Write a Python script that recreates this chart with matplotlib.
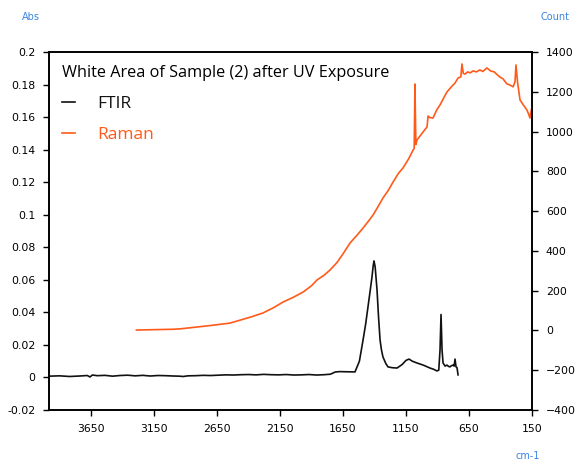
import matplotlib.pyplot as plt

# FTIR spectrum (left axis, Abs)
ftir_wn = [3984, 3900, 3820, 3740, 3680, 3658, 3640, 3600, 3540, 3480, 3420, 3360,
           3300, 3240, 3180, 3120, 3060, 3000, 2950, 2920, 2880, 2820, 2760, 2700,
           2640, 2580, 2520, 2460, 2400, 2340, 2280, 2220, 2160, 2100, 2040, 1980,
           1920, 1860, 1800, 1750, 1714, 1680, 1620, 1555, 1520, 1491, 1470, 1452,
           1435, 1420, 1410, 1404, 1395, 1380, 1368, 1356, 1345, 1333, 1310, 1293,
           1260, 1221, 1180, 1150, 1126, 1100, 1063, 1010, 960, 930, 904, 890, 880,
           872, 864, 856, 840, 825, 812, 801, 790, 777, 768, 761, 753, 745, 737]
ftir_abs = [0.0008, 0.0010, 0.0006, 0.0009, 0.0012, 0.0003, 0.0015, 0.0011, 0.0013, 0.0008,
            0.0012, 0.0014, 0.0010, 0.0013, 0.0009, 0.0012, 0.0011, 0.0009, 0.0008, 0.0006,
            0.0010, 0.0011, 0.0013, 0.0012, 0.0014, 0.0016, 0.0015, 0.0017, 0.0018, 0.0016,
            0.0019, 0.0017, 0.0016, 0.0018, 0.0015, 0.0016, 0.0018, 0.0015, 0.0017, 0.0020,
            0.0033, 0.0036, 0.0035, 0.0034, 0.0100, 0.0230, 0.0330, 0.0433, 0.0530, 0.0618,
            0.0690, 0.0716, 0.0680, 0.0537, 0.0370, 0.0230, 0.0170, 0.0126, 0.0085, 0.0065,
            0.0060, 0.0058, 0.0080, 0.0105, 0.0113, 0.0100, 0.0089, 0.0075, 0.0058, 0.0050,
            0.0040, 0.0045, 0.0169, 0.0387, 0.0170, 0.0089, 0.0070, 0.0076, 0.0068, 0.0065,
            0.0072, 0.0076, 0.0070, 0.0113, 0.0065, 0.0060, 0.0016]

# Raman spectrum (right axis, Count)
raman_wn = [3290, 3150, 3000, 2944, 2800, 2700, 2547, 2450, 2380, 2285, 2200, 2126,
            2050, 1967, 1900, 1856, 1800, 1753, 1700, 1650, 1594, 1540, 1491, 1450,
            1412, 1370, 1333, 1290, 1253, 1210, 1174, 1130, 1094, 1085, 1079, 1072,
            1063, 1030, 1000, 983, 975, 960, 936, 905, 880, 850, 825, 790, 761, 737,
            715, 706, 695, 682, 660, 640, 618, 590, 565, 540, 507, 480, 450, 425,
            404, 380, 350, 325, 300, 285, 277, 265, 245, 220, 190, 175, 166, 158, 150]
raman_cnt = [2, 4, 6, 8, 18, 25, 37, 55, 68, 88, 115, 143, 165, 193, 225, 254, 278, 304,
             340, 385, 440, 478, 515, 548, 580, 625, 666, 705, 746, 790, 817, 862, 907,
             915, 1239, 935, 958, 985, 1010, 1023, 1078, 1070, 1068, 1110, 1134, 1170,
             1199, 1225, 1244, 1269, 1275, 1340, 1292, 1289, 1300, 1295, 1305, 1300,
             1310, 1302, 1320, 1305, 1300, 1285, 1274, 1265, 1240, 1234, 1225, 1250,
             1335, 1250, 1159, 1135, 1108, 1085, 1068, 1100, 1123]

orange = "#ff5a1a"
blue = "#3d85e0"

fig = plt.figure(figsize=(5.75, 4.61), dpi=100)
ax = fig.add_axes([0.0852, 0.1106, 0.84, 0.7766])
ax2 = ax.twinx()

l1, = ax.plot(ftir_wn, ftir_abs, color="#111111", lw=1.2, label="FTIR")
l2, = ax2.plot(raman_wn, raman_cnt, color=orange, lw=1.2, label="Raman")

ax.set_xlim(3984, 150)
ax.set_ylim(-0.02, 0.2)
ax2.set_ylim(-400, 1400)
ax.set_xticks([3650, 3150, 2650, 2150, 1650, 1150, 650, 150])
ax.set_yticks([-0.02, 0, 0.02, 0.04, 0.06, 0.08, 0.1, 0.12, 0.14, 0.16, 0.18, 0.2])
ax.set_yticklabels(["-0.02", "0", "0.02", "0.04", "0.06", "0.08", "0.1", "0.12",
                    "0.14", "0.16", "0.18", "0.2"])
ax2.set_yticks(range(-400, 1401, 200))

for a in (ax, ax2):
    a.tick_params(labelsize=7.8, length=4, width=1, direction="out", pad=6)
    for s in a.spines.values():
        s.set_linewidth(1.2)

fig.text(0.038, 0.963, "Abs", color=blue, fontsize=7, ha="left", va="center")
fig.text(0.965, 0.963, "Count", color=blue, fontsize=7, ha="center", va="center")
fig.text(0.918, 0.010, "cm-1", color=blue, fontsize=7, ha="center", va="center")

leg = ax2.legend(handles=[l1, l2], loc="upper left", frameon=False,
                 title="White Area of Sample (2) after UV Exposure",
                 prop={"family": "Open Sans", "size": 12.5},
                 title_fontproperties={"family": "Open Sans", "size": 11.7},
                 handlelength=0.75, handletextpad=1.3, labelspacing=0.85,
                 borderaxespad=0.35, borderpad=0.4)
leg._legend_box.align = "left"
for t, c in zip(leg.get_texts(), ["#111111", orange]):
    t.set_color(c)

plt.savefig("out.png", dpi=100)
